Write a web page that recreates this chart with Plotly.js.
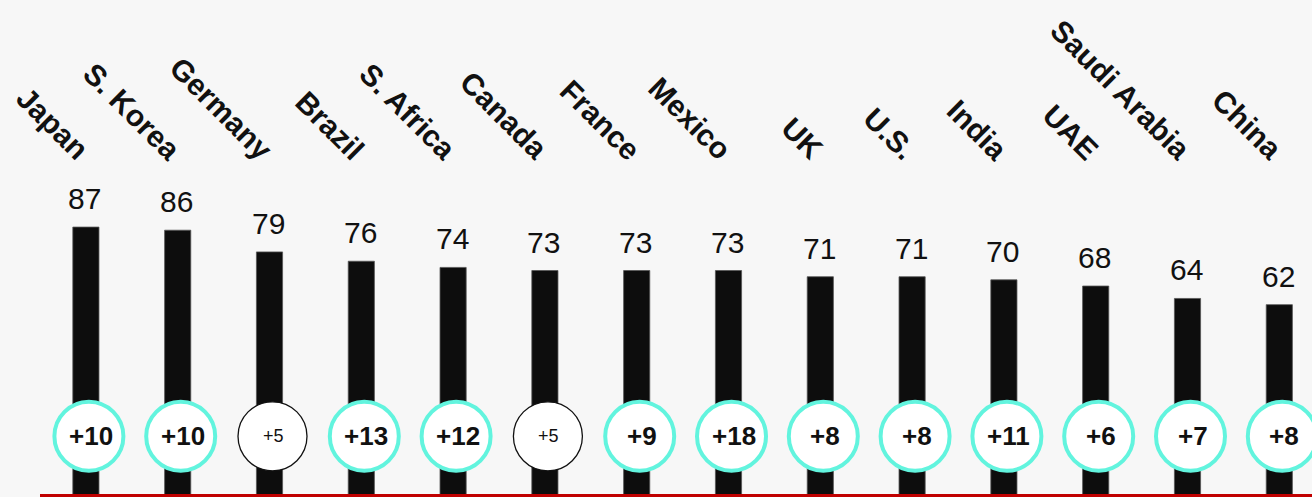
<!DOCTYPE html>
<html>
<head>
<meta charset="utf-8">
<script src="https://cdn.plot.ly/plotly-3.0.1.min.js"></script>
<style>
  html, body { margin: 0; padding: 0; background: #f7f7f7; }
  #chart { width: 1312px; height: 497px; }
</style>
</head>
<body>
<div id="chart"></div>
<script>
// Score by country, and change in points
const countries = ['Japan', 'S. Korea', 'Germany', 'Brazil', 'S. Africa', 'Canada', 'France',
                   'Mexico', 'UK', 'U.S.', 'India', 'UAE', 'Saudi Arabia', 'China'];
const scores = [87, 86, 79, 76, 74, 73, 73, 73, 71, 71, 70, 68, 64, 62];
const changes = [10, 10, 5, 13, 12, 5, 9, 18, 8, 8, 11, 6, 7, 8];

const W = 1312, H = 497;
const ML = 40;
const step = 91.8;                 // px per category
const plotW = W - ML;
const xMax = -0.5 + plotW / step;
const yMax = 160.2;
const pxPerUnit = H / yMax;
const toY = px => (H - px) / pxPerUnit;   // pixel row -> data value

const FONT = 'Liberation Sans, Arial, Helvetica, sans-serif';
const TEAL = '#62f4de';
const idx = countries.map((_, i) => i);

const bars = {
  type: 'bar',
  x: idx,
  y: scores,
  width: 0.285,
  marker: { color: '#0d0d0d', line: { color: '#555', width: 0.8 } },
  hoverinfo: 'skip'
};

const annotations = [];
const shapes = [];

// score labels above bars
scores.forEach((v, i) => {
  annotations.push({
    x: i, y: v, xref: 'x', yref: 'y',
    text: String(v), showarrow: false,
    xanchor: 'center', yanchor: 'bottom', yshift: 10, xshift: -1,
    font: { family: FONT, size: 30, color: '#111' }
  });
});

// rotated country names
countries.forEach((c, i) => {
  annotations.push({
    x: i, y: toY(160), xref: 'x', yref: 'y',
    text: '<b>' + c + '</b>', showarrow: false,
    textangle: 45, xanchor: 'right', yanchor: 'bottom', xshift: 12, yshift: -9,
    font: { family: FONT, size: 30, color: '#111' }
  });
});

// change badges
const yBadge = toY(436.3);
changes.forEach((d, i) => {
  const big = d > 5;
  shapes.push({
    type: 'circle', layer: 'above',
    xref: 'x', yref: 'y', xsizemode: 'pixel', ysizemode: 'pixel',
    xanchor: i, yanchor: yBadge,
    x0: 3 - 34.5, x1: 3 + 34.5, y0: -34.5, y1: 34.5,
    fillcolor: '#ffffff',
    line: big ? { color: TEAL, width: 4 } : { color: '#111', width: 1.3 }
  });
  annotations.push({
    x: i, y: yBadge, xref: 'x', yref: 'y',
    text: big ? '<b>+' + d + '</b>' : '+' + d, showarrow: false,
    xanchor: 'center', yanchor: 'middle', xshift: big ? 5 : 4, yshift: 0,
    font: { family: FONT, size: big ? 26 : 18, color: '#111' }
  });
});

// red baseline
shapes.push({
  type: 'line', layer: 'above',
  xref: 'paper', yref: 'y', x0: 0, x1: 1, y0: 1.5 / pxPerUnit, y1: 1.5 / pxPerUnit,
  line: { color: '#c00000', width: 3 }
});

const layout = {
  width: W, height: H,
  margin: { l: ML, r: 0, t: 0, b: 0, pad: 0 },
  paper_bgcolor: '#f7f7f7',
  plot_bgcolor: '#f7f7f7',
  showlegend: false,
  xaxis: { range: [-0.5, xMax], visible: false, fixedrange: true },
  yaxis: { range: [0, yMax], visible: false, fixedrange: true },
  annotations: annotations,
  shapes: shapes
};

Plotly.newPlot('chart', [bars], layout, { staticPlot: true, displayModeBar: false });
</script>
</body>
</html>
